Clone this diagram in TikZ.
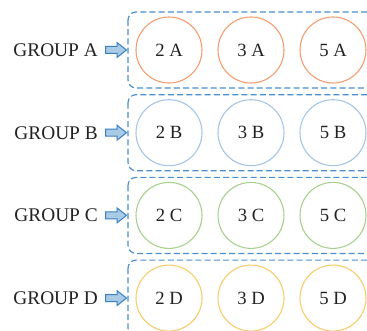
\documentclass[tikz,border=0pt]{standalone}
\usepackage{fontspec}
\setmainfont{Liberation Serif}
\definecolor{boxblue}{HTML}{4A8FD0}
\definecolor{arrowfill}{HTML}{A9CBE6}
\definecolor{arrowline}{HTML}{3A7FC4}
\definecolor{ringA}{HTML}{F59A6C}
\definecolor{ringB}{HTML}{A3C4E6}
\definecolor{ringC}{HTML}{A6CF8C}
\definecolor{ringD}{HTML}{F8CB6A}
\definecolor{ink}{HTML}{222222}
\tikzset{
  groupbox/.style={draw=boxblue, line width=0.9pt, dash pattern=on 4.5pt off 2.4pt, rounded corners=6pt},
  well/.style={circle, draw=#1, line width=0.8pt, minimum size=49.5pt, inner sep=0pt, text=ink, font=\fontsize{14}{16}\selectfont},
  grouplabel/.style={anchor=east, text=ink, inner sep=0pt, font=\fontsize{14.5}{16}\selectfont},
  pointer/.style={draw=arrowline, fill=arrowfill, line width=0.75pt, line join=miter}
}
\begin{document}
\begin{tikzpicture}[x=0.75pt,y=-0.75pt]
\useasboundingbox (0,0) rectangle (367,331);
\foreach \g/\c [count=\i from 0] in {A/ringA, B/ringB, C/ringC, D/ringD}{
  \pgfmathsetmacro{\cy}{50+82.7*\i}
  % dashed tray holding the three wells of the group
  \draw[groupbox] (128,\cy-38) rectangle (420,\cy+38);
  \node[grouplabel] (lab\g) at (98,\cy) {GROUP \g};
  \coordinate (tip\g) at (126.5,\cy);
  % block arrow pointing at the tray
  \draw[pointer, shift={(tip\g)}] (0,0) -- (-9.5,-7.5) -- (-9.5,-3.5) -- (-21,-3.5)
    -- (-21,3.5) -- (-9.5,3.5) -- (-9.5,7.5) -- cycle;
  \node[well=\c] (w2\g) at (169,\cy) {2 \g};
  \node[well=\c] (w3\g) at (251,\cy) {3 \g};
  \node[well=\c] (w5\g) at (333,\cy) {5 \g};
}
\end{tikzpicture}
\end{document}
